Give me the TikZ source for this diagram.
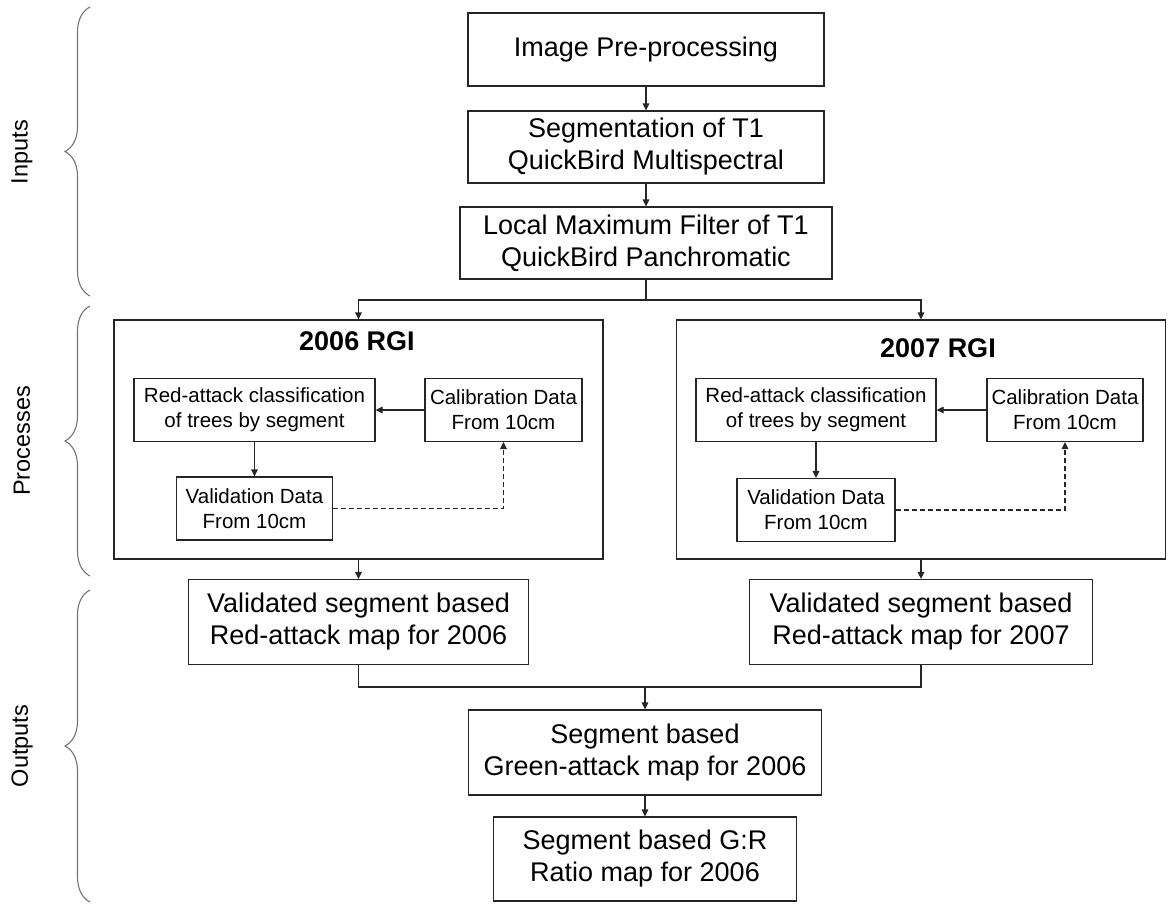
\documentclass[tikz,border=0pt]{standalone}
\usepackage{fontspec}
\setmainfont{Liberation Sans}
\usetikzlibrary{arrows.meta, positioning, decorations.pathreplacing}

\begin{document}
\begin{tikzpicture}[x=1pt, y=-1pt,
    box/.style={draw=black!85, line width=1.1pt, align=center, inner sep=0pt, font=\fontsize{27}{32}\selectfont},
    smallbox/.style={draw=black!85, line width=1.1pt, align=center, inner sep=0pt, minimum height=63pt, font=\fontsize{20.5}{25}\selectfont},
    group/.style={draw=black!85, line width=1.1pt, inner sep=0pt, minimum width=489pt, minimum height=239pt},
    title/.style={font=\bfseries\fontsize{27}{32}\selectfont},
    arr/.style={-{Triangle[length=7pt,width=6.5pt]}, line width=1.1pt, draw=black!85},
    ln/.style={line width=1.1pt, draw=black!85},
    brc/.style={decorate, decoration={brace, amplitude=25pt}, draw=black!55, line width=1.1pt},
    side/.style={rotate=90, font=\fontsize{23.5}{28}\selectfont}]
  \useasboundingbox (0,0) rectangle (1168,905);

  % inputs
  \node[box, minimum width=356pt, minimum height=73pt] (pre) at (646,49.5) {Image Pre-processing};
  \node[box, minimum width=356pt, minimum height=72pt] (seg) at (646,147) {Segmentation of T1\\QuickBird Multispectral};
  \node[box, minimum width=372pt, minimum height=72pt] (lmf) at (646,243) {Local Maximum Filter of T1\\QuickBird Panchromatic};
  \coordinate (split) at (646,300);
  \draw[arr] (pre) -- (seg);
  \draw[arr] (seg) -- (lmf);
  \draw[ln] (lmf) -- (split);

  % processes
  \node[group] (rgiA) at (358.5,439.5) {};
  \node[group] (rgiB) at (921,439.5) {};
  \node[title] (titA) at (357,341) {2006 RGI};
  \node[title] (titB) at (938,348) {2007 RGI};
  \draw[arr] (split) -| (rgiA.north);
  \draw[arr] (split) -| (rgiB.north);

  \node[smallbox, minimum width=241pt] (redA) at (254.5,410) {Red-attack classification\\of trees by segment};
  \node[smallbox, minimum width=157pt] (calA) at (503.5,410) {Calibration Data\\From 10cm};
  \node[smallbox, minimum width=156pt] (valA) at (254.5,508.5) {Validation Data\\From 10cm};
  \draw[arr] (calA) -- (redA);
  \draw[arr] (redA) -- (valA);
  \draw[arr, dash pattern=on 5pt off 3pt] (valA.east) -| (calA.south);

  \node[smallbox, minimum width=240pt] (redB) at (816,410) {Red-attack classification\\of trees by segment};
  \node[smallbox, minimum width=156pt] (calB) at (1065,410) {Calibration Data\\From 10cm};
  \node[smallbox, minimum width=158pt] (valB) at (816,510) {Validation Data\\From 10cm};
  \draw[arr] (calB) -- (redB);
  \draw[arr] (redB) -- (valB);
  \draw[arr, dash pattern=on 5pt off 3pt] (valB.east) -| (calB.south);

  % outputs
  \node[box, minimum width=340pt, minimum height=85pt] (outA) at (358.5,622) {Validated segment based\\Red-attack map for 2006};
  \node[box, minimum width=343pt, minimum height=85pt] (outB) at (921,622) {Validated segment based\\Red-attack map for 2007};
  \draw[arr] (rgiA) -- (outA);
  \draw[arr] (rgiB) -- (outB);
  \coordinate (merge) at (645,687);
  \draw[ln] (outA.south) |- (merge) -| (outB.south);
  \node[box, minimum width=353pt, minimum height=85pt] (green) at (645,752.5) {Segment based\\Green-attack map for 2006};
  \node[box, minimum width=303pt, minimum height=84pt] (ratio) at (645,859) {Segment based G:R\\Ratio map for 2006};
  \draw[arr] (merge) -- (green);
  \draw[arr] (green) -- (ratio);

  % braces
  \coordinate (inTop) at (90,7);
  \coordinate (inBot) at (90,296);
  \coordinate (prTop) at (90,306);
  \coordinate (prBot) at (90,576);
  \coordinate (outTop) at (90,590);
  \coordinate (outBot) at (90,902);
  \draw[brc] (inBot) -- (inTop);
  \draw[brc] (prBot) -- (prTop);
  \draw[brc] (outBot) -- (outTop);
  \node[side] (inLbl) at (22,152) {Inputs};
  \node[side] (prLbl) at (22,441) {Processes};
  \node[side] (outLbl) at (22,746) {Outputs};
\end{tikzpicture}
\end{document}
